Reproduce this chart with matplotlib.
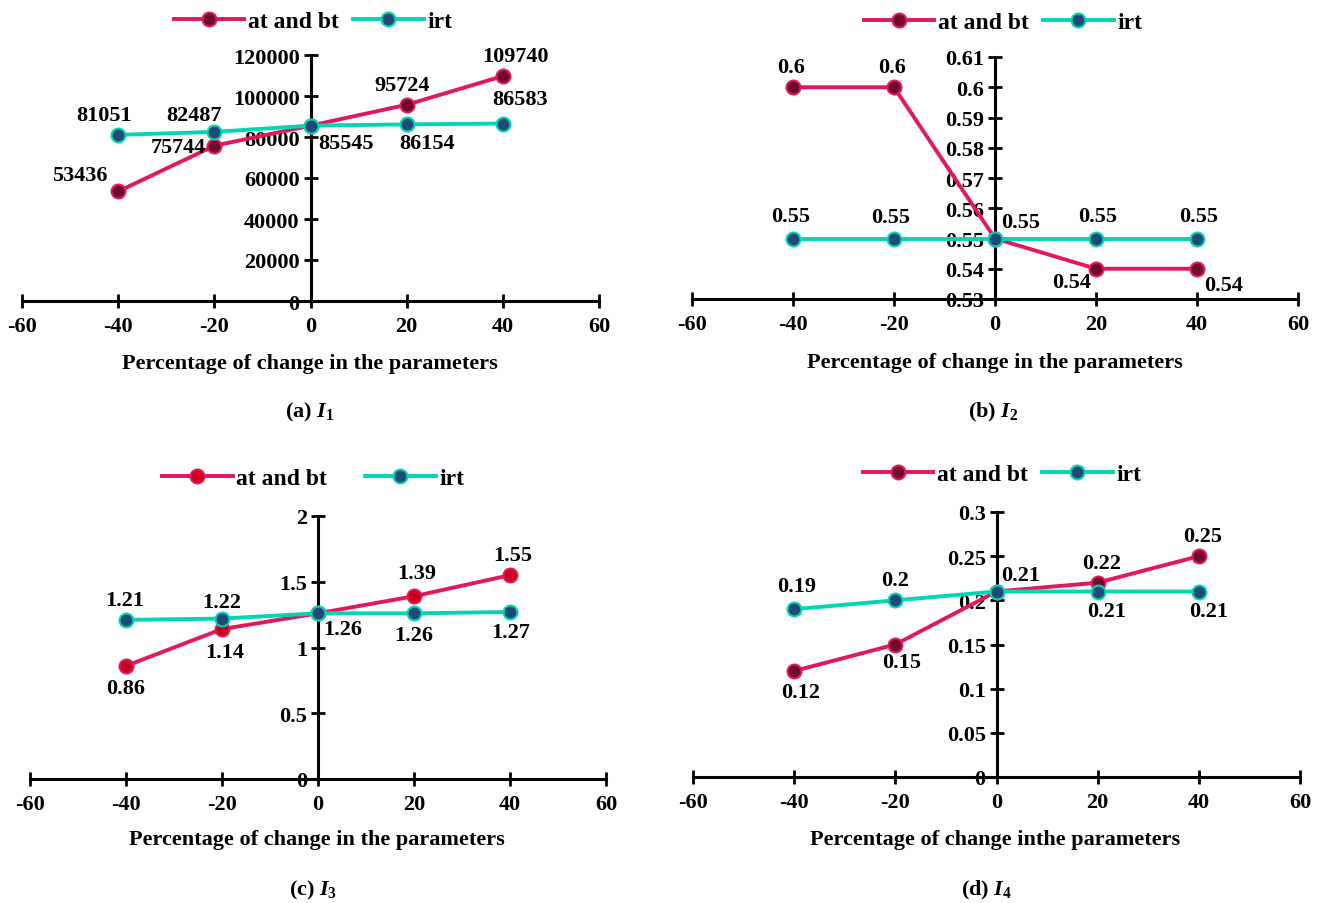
import matplotlib
matplotlib.use("Agg")
import matplotlib.pyplot as plt
from matplotlib.lines import Line2D

plt.rcParams['font.family'] = 'Liberation Serif'
plt.rcParams['font.weight'] = 'bold'
plt.rcParams['axes.unicode_minus'] = False
plt.rcParams['mathtext.fontset'] = 'custom'
plt.rcParams['mathtext.it'] = 'Liberation Serif:italic:bold'
plt.rcParams['mathtext.rm'] = 'Liberation Serif:bold'

FS = 16

# percentage change in the parameters
pct = [-40, -20, 0, 20, 40]

# (a) I1
i1_atbt = [53436, 75744, 85545, 95724, 109740]
i1_irt = [81051, 82487, 85545, 86154, 86583]
i1_atbt_lbl = ['53436', '75744', '85545', '95724', '109740']
i1_irt_lbl = ['81051', '82487', '', '86154', '86583']
i1_yticks = [0, 20000, 40000, 60000, 80000, 100000, 120000]

# (b) I2
i2_atbt = [0.60, 0.60, 0.55, 0.54, 0.54]
i2_irt = [0.55, 0.55, 0.55, 0.55, 0.55]
i2_atbt_lbl = ['0.6', '0.6', '', '0.54', '0.54']
i2_irt_lbl = ['0.55', '0.55', '0.55', '0.55', '0.55']
i2_yticks = [0.53, 0.54, 0.55, 0.56, 0.57, 0.58, 0.59, 0.6, 0.61]

# (c) I3
i3_atbt = [0.86, 1.14, 1.26, 1.39, 1.55]
i3_irt = [1.21, 1.22, 1.26, 1.26, 1.27]
i3_atbt_lbl = ['0.86', '1.14', '', '1.39', '1.55']
i3_irt_lbl = ['1.21', '1.22', '1.26', '1.26', '1.27']
i3_yticks = [0, 0.5, 1, 1.5, 2]

# (d) I4
i4_atbt = [0.12, 0.15, 0.21, 0.22, 0.25]
i4_irt = [0.19, 0.20, 0.21, 0.21, 0.21]
i4_atbt_lbl = ['0.12', '0.15', '', '0.22', '0.25']
i4_irt_lbl = ['0.19', '0.2', '0.21', '0.21', '0.21']
i4_yticks = [0, 0.05, 0.1, 0.15, 0.2, 0.25, 0.3]

xticks = [-60, -40, -20, 0, 20, 40, 60]

RED = '#E2185A'
RED_FACE = '#6E0A2C'
RED_FACE_C = '#C8001E'
TEAL = '#00D6B2'
BLUE_FACE = '#1F4A78'

W, H = 1320, 904
fig = plt.figure(figsize=(13.2, 9.04), dpi=100)


def px(x0, y0, x1, y1):
    # pixel box -> figure fraction rect
    return [x0 / W, 1 - y1 / H, (x1 - x0) / W, (y1 - y0) / H]


def lbl(ax, xs, ys, texts, offs):
    for x, y, t, o in zip(xs, ys, texts, offs):
        if not t:
            continue
        dx, dy, ha = o
        ax.annotate(t, (x, y), xytext=(dx * 0.72, dy * 0.72), textcoords='offset points',
                    ha=ha, va='center', fontsize=FS, fontweight='bold', zorder=5)


def panel(rect, ylo, yhi, yticks, atbt, irt, red_face):
    ax = fig.add_axes(rect)
    ax.plot(pct, atbt, color=RED, lw=2.8, marker='o', ms=10, mfc=red_face, mec=RED, mew=1.5,
            zorder=3, clip_on=False)
    ax.plot(pct, irt, color=TEAL, lw=2.8, marker='o', ms=10, mfc=BLUE_FACE, mec=TEAL, mew=1.5,
            zorder=4, clip_on=False)
    ax.set_xlim(-60, 60)
    ax.set_ylim(ylo, yhi)
    ax.set_xticks(xticks)
    ax.set_yticks(yticks)
    ax.set_yticklabels([f'{v:g}' for v in yticks])
    ax.spines['left'].set_position(('data', 0))
    ax.spines['top'].set_visible(False)
    ax.spines['right'].set_visible(False)
    for s in ('left', 'bottom'):
        ax.spines[s].set_linewidth(2.2)
    ax.tick_params(axis='both', direction='inout', length=9.5, width=2, labelsize=FS)
    ax.tick_params(axis='x', pad=6)
    ax.tick_params(axis='y', pad=3)
    ax.patch.set_visible(False)
    return ax


def legend(cx, cy, red_face, gap=0.6):
    h = [Line2D([], [], color=RED, lw=2.8, marker='o', ms=10, mfc=red_face, mec=RED, mew=1.5),
         Line2D([], [], color=TEAL, lw=2.8, marker='o', ms=10, mfc=BLUE_FACE, mec=TEAL, mew=1.5)]
    fig.legend(h, ['at and bt', 'irt'], loc='center', bbox_to_anchor=(cx / W, 1 - cy / H),
               ncol=2, frameon=False, fontsize=FS + 1, handlelength=3.0, handletextpad=0.15,
               columnspacing=gap, borderpad=0)


def caption(cx, cy, letter, n):
    fig.text(cx / W, 1 - cy / H, f'({letter}) $I_{{\\mathit{{{n}}}}}$', ha='center', va='center',
             fontsize=FS, fontweight='bold')


def xlab(cx, cy, text='Percentage of change in the parameters'):
    fig.text(cx / W, 1 - cy / H, text, ha='center', va='center', fontsize=FS, fontweight='bold')


# (a)
ax = panel(px(22, 56, 599, 302), 0, 120000, i1_yticks, i1_atbt, i1_irt, RED_FACE)
lbl(ax, pct, i1_atbt, i1_atbt_lbl,
    [(-38, 16, 'center'), (-8, -1, 'right'), (8, -17, 'left'), (-5, 20, 'center'), (13, 20, 'center')])
lbl(ax, pct, i1_irt, i1_irt_lbl,
    [(-14, 20, 'center'), (-20, 17, 'center'), (0, 0, 'center'), (20, -19, 'center'), (17, 25, 'center')])
legend(313, 22, RED_FACE)
xlab(310, 364)
caption(310, 412, 'a', 1)

# (b)
ax = panel(px(692, 58, 1298, 300), 0.53, 0.61, i2_yticks, i2_atbt, i2_irt, RED_FACE)
lbl(ax, pct, i2_atbt, i2_atbt_lbl,
    [(-2, 20, 'center'), (-2, 20, 'center'), (0, 0, 'center'), (-24, -13, 'center'), (27, -16, 'center')])
lbl(ax, pct, i2_irt, i2_irt_lbl,
    [(-2, 22, 'center'), (-3, 21, 'center'), (6, 16, 'left'), (2, 22, 'center'), (2, 22, 'center')])
legend(1003, 23, RED_FACE)
xlab(995, 363)
caption(993, 412, 'b', 2)

# (c)
ax = panel(px(30, 517, 606, 780), 0, 2, i3_yticks, i3_atbt, i3_irt, RED_FACE_C)
lbl(ax, pct, i3_atbt, i3_atbt_lbl,
    [(0, -22, 'center'), (3, -23, 'center'), (0, 0, 'center'), (3, 23, 'center'), (3, 20, 'center')])
lbl(ax, pct, i3_irt, i3_irt_lbl,
    [(-1, 20, 'center'), (0, 17, 'center'), (5, -16, 'left'), (0, -22, 'center'), (1, -20, 'center')])
legend(313, 479, RED_FACE_C, gap=1.6)
xlab(317, 840)
caption(313, 890, 'c', 3)

# (d)
ax = panel(px(693, 513, 1300, 778), 0, 0.3, i4_yticks, i4_atbt, i4_irt, RED_FACE)
lbl(ax, pct, i4_atbt, i4_atbt_lbl,
    [(6, -21, 'center'), (6, -18, 'center'), (0, 0, 'center'), (4, 20, 'center'), (4, 20, 'center')])
lbl(ax, pct, i4_irt, i4_irt_lbl,
    [(2, 23, 'center'), (0, 20, 'center'), (5, 16, 'left'), (9, -20, 'center'), (10, -20, 'center')])
legend(1002, 475, RED_FACE)
xlab(995, 840, 'Percentage of change inthe parameters')
caption(986, 890, 'd', 4)

fig.savefig('out.png', dpi=100)
